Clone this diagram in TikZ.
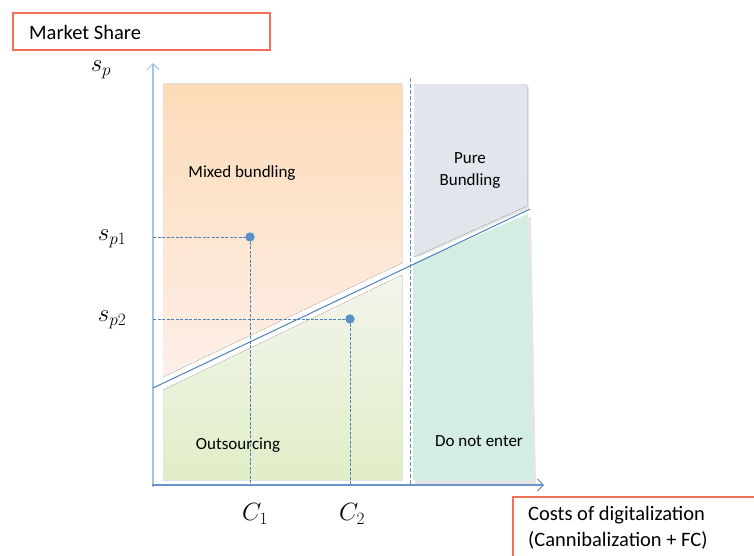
\documentclass[tikz,border=0pt]{standalone}
\usepackage{fontspec}
\setmainfont{Carlito}
\usetikzlibrary{arrows.meta}
\definecolor{redbox}{HTML}{F0705A}
\definecolor{axisL}{HTML}{A5C3E4}
\definecolor{axisB}{HTML}{6A93CB}
\definecolor{lineB}{HTML}{4F81BD}
\definecolor{dotB}{HTML}{5B8FC9}
\definecolor{orTop}{HTML}{FDDBB8}
\definecolor{orBot}{HTML}{FDEFE8}
\definecolor{grTop}{HTML}{F2F5EC}
\definecolor{grBot}{HTML}{E1EEC8}
\definecolor{pbTop}{HTML}{E3E6EE}
\definecolor{pbBot}{HTML}{E1E5EC}
\definecolor{dnFill}{HTML}{D3EDE2}
\tikzset{
  lbl/.style={font=\fontsize{17}{22}\selectfont, align=center, inner sep=0pt},
  mathlbl/.style={font=\fontsize{27}{30}\selectfont, inner sep=0pt},
  guide/.style={draw=lineB, dashed, line width=0.7pt, dash pattern=on 3pt off 1.5pt},
  dotnode/.style={circle, fill=dotB, minimum size=9pt, inner sep=0pt},
  shadowfill/.style={fill=black!10},
}
\begin{document}
\begin{tikzpicture}[x=1pt,y=-1pt]
\useasboundingbox (0,0) rectangle (754,556);
% regions
\fill[top color=orTop, bottom color=orBot] (163,84) -- (402,84) -- (402,263) -- (163,377) -- cycle;
\fill[top color=grTop, bottom color=grBot] (163,390) -- (402,275) -- (402,480) -- (163,480) -- cycle;
\fill[shadowfill] (416,87) -- (529,87) -- (529,208) -- (416,258) -- cycle;
\fill[top color=pbTop, bottom color=pbBot] (414,85) -- (527,85) -- (527,206) -- (414,257) -- cycle;
\fill[shadowfill] (415,266) -- (531,217) -- (536,484) -- (415,484) -- cycle;
\fill[dnFill] (413,263) -- (528,214) -- (533,480) -- (413,480) -- cycle;
% vertical dashed separator
\coordinate (sepT) at (410,78);
\coordinate (sepB) at (410,486);
\draw[draw=dotB, dashed, line width=0.8pt, dash pattern=on 4pt off 2pt] (sepT) -- (sepB);
% axes
\coordinate (O) at (153,485);
\coordinate (yEnd) at (153,63);
\coordinate (xEnd) at (544,485);
\draw[axisL, line width=2.2pt, -{Straight Barb[length=6pt,width=12pt,line width=1pt]}] (153,487) -- (yEnd);
\draw[axisB, line width=1.3pt, -{Straight Barb[length=6pt,width=12pt,line width=1pt]}] (152,485) -- (xEnd);
% diagonal boundary
\coordinate (dL) at (153,388);
\coordinate (dR) at (530,209);
\draw[lineB, line width=1pt] (dL) -- (dR);
% points
\node[dotnode] (p1) at (250,237) {};
\node[dotnode] (p2) at (350,319) {};
\coordinate (y1) at (153,237);
\coordinate (y2) at (153,319);
\coordinate (x1) at (250,485);
\coordinate (x2) at (350,485);
\draw[guide] (y1) -- (p1.center);
\draw[guide] (p1.center) -- (x1);
\draw[guide] (y2) -- (p2.center);
\draw[guide] (p2.center) -- (x2);
\node[dotnode] at (p1) {};
\node[dotnode] at (p2) {};
% axis labels
\node[mathlbl] (sp) at (101,70) {$s_p$};
\node[mathlbl] (sp1) at (112,239) {$s_{p1}$};
\node[mathlbl] (sp2) at (112,320) {$s_{p2}$};
\node[mathlbl] (c1) at (255,514) {$C_1$};
\node[mathlbl] (c2) at (352,514) {$C_2$};
% region labels
\node[lbl] (mb) at (242,173) {Mixed bundling};
\node[lbl] (pb) at (470,171) {Pure\\Bundling};
\node[lbl] (os) at (238,445) {Outsourcing};
\node[lbl] (dn) at (479,441) {Do not enter};
% title boxes
\node[draw=redbox, line width=1.1pt, minimum width=257pt, minimum height=37pt, inner sep=0pt] (ms) at (141.5,31.5) {};
\node[anchor=west, font=\fontsize{20.5}{24}\selectfont, inner sep=0pt] (mst) at (29,32) {Market Share};
\coordinate (cbTL) at (513,497);
\draw[redbox, line width=1.1pt] (513,560) -- (cbTL) -- (760,497);
\node[anchor=north west, align=left, font=\fontsize{20.5}{26}\selectfont, inner sep=0pt] (cost) at (528,506) {Costs of digitalization\\(Cannibalization + FC)};
\end{tikzpicture}
\end{document}
